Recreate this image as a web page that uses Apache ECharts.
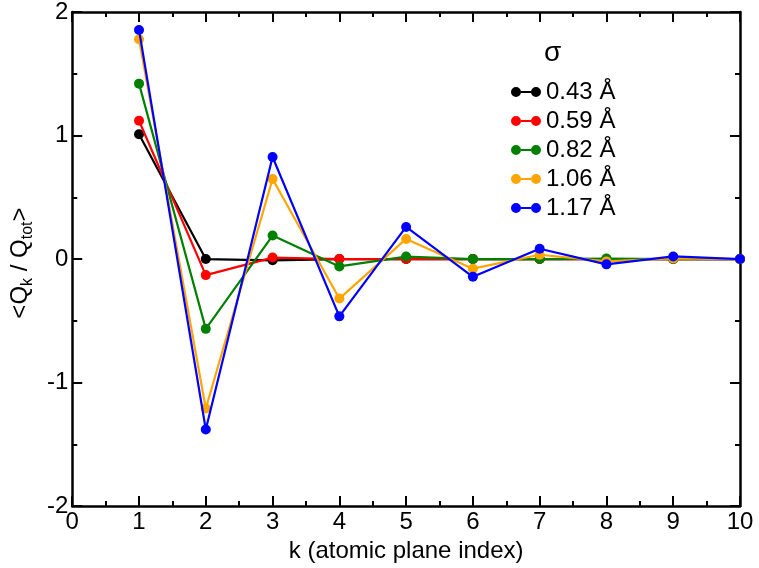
<!DOCTYPE html>
<html>
<head>
<meta charset="utf-8">
<script src="https://cdn.jsdelivr.net/npm/echarts@6/dist/echarts.min.js"></script>
<style>
html,body{margin:0;padding:0;background:#fff;}
#chart{width:759px;height:568px;}
</style>
</head>
<body>
<div id="chart"></div>
<script>
const kValues = [1, 2, 3, 4, 5, 6, 7, 8, 9, 10];
const seriesNames = ['0.43 Å', '0.59 Å', '0.82 Å', '1.06 Å', '1.17 Å'];
const seriesColors = ['#000000', '#ff0000', '#008000', '#ffa500', '#0000ff'];
const q043 = [1.01, 0.0, -0.01, 0.0, 0.0, 0.0, 0.0, 0.0, 0.0, 0.0];
const q059 = [1.12, -0.13, 0.012, 0.0, 0.0, 0.0, 0.0, 0.0, 0.0, 0.0];
const q082 = [1.42, -0.565, 0.19, -0.06, 0.02, 0.0, 0.0, 0.004, 0.0, 0.0];
const q106 = [1.78, -1.21, 0.648, -0.32, 0.163, -0.078, 0.035, -0.019, 0.005, 0.0];
const q117 = [1.855, -1.38, 0.826, -0.464, 0.26, -0.144, 0.083, -0.043, 0.021, 0.0];
const allSeries = [q043, q059, q082, q106, q117];

const FONT = '"Liberation Sans", Arial, Helvetica, sans-serif';
const FS = 24;
const legendIcon = 'path://M0,5a5,5 0 1,1 10,0a5,5 0 1,1 -10,0Z M20,5a5,5 0 1,1 10,0a5,5 0 1,1 -10,0Z M10,4h10v2h-10Z';

function axisCommon(showLabel) {
  return {
    axisLine: { show: true, onZero: false, lineStyle: { color: '#000', width: 2.5 } },
    axisTick: { show: true, inside: true, length: 10, lineStyle: { color: '#000', width: 2 } },
    minorTick: { show: true, splitNumber: 2, length: 5, lineStyle: { color: '#000', width: 2 } },
    splitLine: { show: false },
    minorSplitLine: { show: false },
    axisLabel: { show: showLabel, color: '#000', fontSize: FS, fontFamily: FONT, margin: 4 }
  };
}

const chart = echarts.init(document.getElementById('chart'), null, { renderer: 'canvas' });
const option = {
  animation: false,
  backgroundColor: '#fff',
  textStyle: { fontFamily: FONT },
  grid: { left: 72, right: 19, top: 12, bottom: 56, containLabel: false },
  title: {
    text: 'σ',
    left: 539,
    top: 34,
    textStyle: { fontSize: 28, fontWeight: 'normal', color: '#000', fontFamily: FONT }
  },
  legend: {
    orient: 'vertical',
    left: 506,
    top: 75,
    itemWidth: 30,
    itemHeight: 10,
    itemGap: 5,
    icon: legendIcon,
    data: seriesNames.map(function (n, i) {
      return { name: n, itemStyle: { color: seriesColors[i], borderWidth: 0 } };
    }),
    textStyle: { fontSize: FS, color: '#000', fontFamily: FONT, padding: 0 }
  },
  xAxis: [
    Object.assign({
      type: 'value', min: 0, max: 10, interval: 1, position: 'bottom',
      name: 'k (atomic plane index)', nameLocation: 'middle', nameGap: 27,
      nameTextStyle: { fontSize: FS, color: '#000', fontFamily: FONT }
    }, axisCommon(true)),
    Object.assign({ type: 'value', min: 0, max: 10, interval: 1, position: 'top' }, axisCommon(false))
  ],
  yAxis: [
    Object.assign({
      type: 'value', min: -2, max: 2, interval: 1, position: 'left',
      name: '{a|<Q}{b|k}{a| / Q}{b|tot}{a|>}', nameLocation: 'middle', nameRotate: 90, nameGap: 20,
      nameTextStyle: {
        fontFamily: FONT,
        padding: [0, 8, 0, 0],
        rich: {
          a: { fontSize: FS, lineHeight: 32, color: '#000', fontFamily: FONT },
          b: { fontSize: 16, lineHeight: 16, verticalAlign: 'bottom', color: '#000', fontFamily: FONT }
        }
      }
    }, axisCommon(true)),
    Object.assign({ type: 'value', min: -2, max: 2, interval: 1, position: 'right' }, axisCommon(false))
  ],
  series: allSeries.map(function (vals, i) {
    return {
      name: seriesNames[i],
      type: 'line',
      xAxisIndex: 0,
      yAxisIndex: 0,
      data: kValues.map(function (k, j) { return [k, vals[j]]; }),
      symbol: 'circle',
      symbolSize: 10,
      showSymbol: true,
      color: seriesColors[i],
      lineStyle: { color: seriesColors[i], width: 2.2 },
      itemStyle: { color: seriesColors[i] },
      z: 2 + i
    };
  })
};
chart.setOption(option);
</script>
</body>
</html>
